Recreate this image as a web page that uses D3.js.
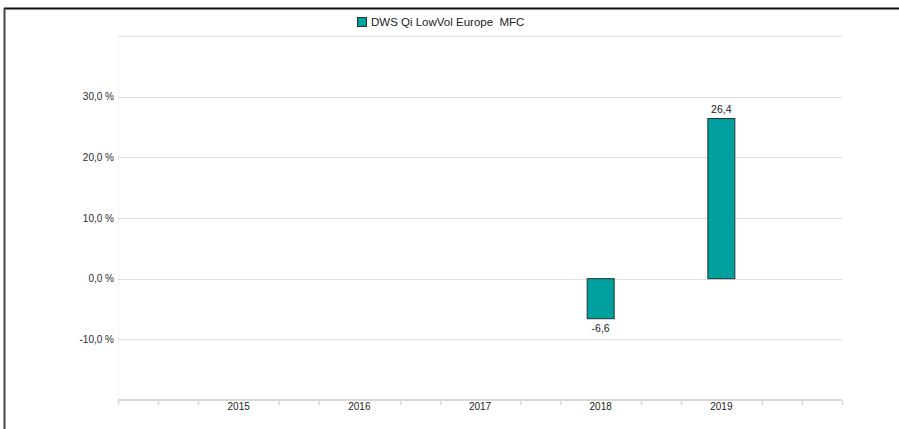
<!DOCTYPE html>
<html>
<head>
<meta charset="utf-8">
<script src="https://cdn.jsdelivr.net/npm/d3@7"></script>
<style>
  body { margin: 0; background: #fff; }
  svg { display: block; font-family: "Liberation Sans", Arial, sans-serif; }
</style>
</head>
<body>
<svg class="chart"></svg>
<script>
// chart data
var years = [2015, 2016, 2017, 2018, 2019];
var values = [null, null, null, -6.6, 26.4];
var yTicks = [-10, 0, 10, 20, 30];
var seriesName = "DWS Qi LowVol Europe  MFC";

function show() {
    'use strict';
    var width = 899, height = 429;
    var plot = {left: 118, right: 842, top: 36, bottom: 400};

    var svg = d3.select(".chart")
        .attr("width", width)
        .attr("height", height);

    var x = d3.scaleLinear().domain([2014, 2020]).range([plot.left, plot.right]);
    var y = d3.scaleLinear().domain([-20, 40]).range([plot.bottom, plot.top]);
    // german style number, plain hyphen for minus
    var fmt = function(v) { return d3.format(".1f")(v).replace(".", ",").replace("\u2212", "-"); };

    // outer frame (top and left only visible)
    svg.append("line").attr("x1", 4).attr("x2", width).attr("y1", 8.5).attr("y2", 8.5)
        .attr("stroke", "#111").attr("stroke-width", 2);
    svg.append("line").attr("x1", 4.5).attr("x2", 4.5).attr("y1", 8).attr("y2", height)
        .attr("stroke", "#444").attr("stroke-width", 2);

    // faint plot left edge
    svg.append("line").attr("x1", plot.left + 0.5).attr("x2", plot.left + 0.5)
        .attr("y1", plot.top).attr("y2", plot.bottom)
        .attr("stroke", "#f7f6f3");

    // gridlines
    svg.append("g").selectAll("line").data(d3.range(-10, 41, 10)).enter()
        .append("line")
        .attr("x1", plot.left).attr("x2", plot.right)
        .attr("y1", function(d) { return Math.round(y(d)) + 0.5; })
        .attr("y2", function(d) { return Math.round(y(d)) + 0.5; })
        .attr("stroke", "#e2dfd9").attr("stroke-width", 1.2);

    // y labels
    svg.append("g").selectAll("text").data(yTicks).enter()
        .append("text")
        .attr("x", plot.left - 4)
        .attr("y", function(d) { return y(d) + 3.5; })
        .attr("text-anchor", "end")
        .attr("font-size", 10)
        .attr("fill", "#2a2a2a")
        .text(function(d) { return fmt(d) + " %"; });

    // x axis line and minor ticks
    var minor = d3.range(0, 19).map(function(i) { return 2014 + i / 3; })
        .filter(function(d, i) { return i % 3 !== 0 || i === 0 || i === 18; });
    svg.append("line").attr("x1", plot.left).attr("x2", plot.right)
        .attr("y1", plot.bottom).attr("y2", plot.bottom)
        .attr("stroke", "#dcd8d0").attr("stroke-width", 2);
    svg.append("g").selectAll("line").data(minor).enter()
        .append("line")
        .attr("x1", function(d) { return Math.round(x(d)) + 0.5; })
        .attr("x2", function(d) { return Math.round(x(d)) + 0.5; })
        .attr("y1", plot.bottom).attr("y2", plot.bottom + 5)
        .attr("stroke", "#dcd8d0").attr("stroke-width", 1.5);

    svg.append("g").selectAll("text").data(years).enter()
        .append("text")
        .attr("x", function(d) { return x(d); })
        .attr("y", plot.bottom + 10)
        .attr("text-anchor", "middle")
        .attr("font-size", 10)
        .attr("fill", "#222")
        .text(function(d) { return d; });

    // bars
    var data = years.map(function(d, i) { return {year: d, value: values[i]}; })
        .filter(function(d) { return d.value !== null; });
    var bw = 27;
    svg.append("g").selectAll("rect").data(data).enter()
        .append("rect")
        .attr("x", function(d) { return x(d.year) - bw / 2; })
        .attr("y", function(d) { return y(Math.max(0, d.value)); })
        .attr("width", bw)
        .attr("height", function(d) { return Math.abs(y(d.value) - y(0)); })
        .attr("fill", "#00a09e")
        .attr("stroke", "#1e3535")
        .attr("stroke-width", 1);

    svg.append("g").selectAll("text").data(data).enter()
        .append("text")
        .attr("x", function(d) { return x(d.year); })
        .attr("y", function(d) { return d.value >= 0 ? y(d.value) - 6 : y(d.value) + 13; })
        .attr("text-anchor", "middle")
        .attr("font-size", 10.5)
        .attr("fill", "#222")
        .text(function(d) { return fmt(d.value); });

    // legend
    var lg = svg.append("g").attr("transform", "translate(357,17)");
    lg.append("rect").attr("x", 0.5).attr("y", 0.5).attr("width", 9).attr("height", 9)
        .attr("fill", "#00a09e").attr("stroke", "#1e3535");
    lg.append("text").attr("x", 14).attr("y", 9)
        .attr("font-size", 11.5).attr("fill", "#222")
        .attr("xml:space", "preserve").style("white-space", "pre")
        .text(seriesName);
}
show();
</script>
</body>
</html>
